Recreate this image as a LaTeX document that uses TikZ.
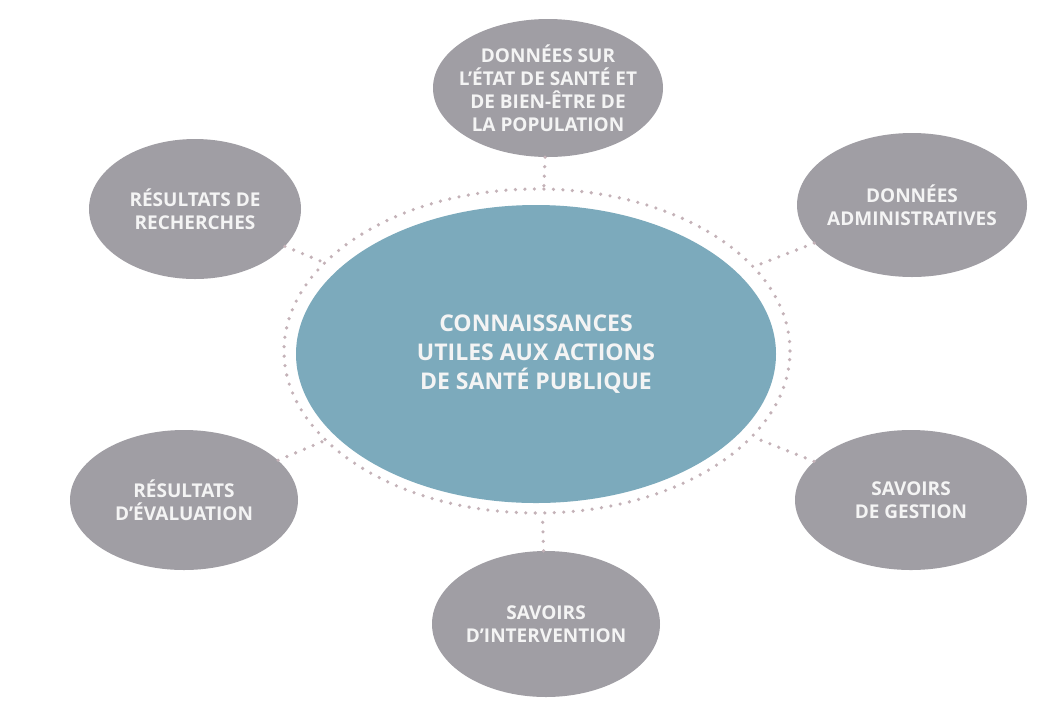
\documentclass[tikz,border=0pt]{standalone}
\usepackage{fontspec}
\setmainfont{Open Sans}
\usetikzlibrary{shapes.geometric}
\definecolor{satgray}{RGB}{160,158,164}
\definecolor{teal}{RGB}{124,170,188}
\definecolor{dotc}{RGB}{196,178,184}
\definecolor{txt}{RGB}{244,244,244}
\tikzset{
  sat/.style={ellipse, fill=satgray, draw=none, inner sep=-40pt, text=txt, align=center,
    font=\fontsize{19}{23}\selectfont\bfseries},
  dotline/.style={draw=dotc, line width=3.6pt, line cap=round, dash pattern=on 0pt off 9.5pt},
}
\begin{document}
\begin{tikzpicture}[x=1pt,y=-1pt]
\useasboundingbox[fill=white] (0,0) rectangle (1060,724);
% dotted ring and center
\node[ellipse, minimum width=508pt, minimum height=326pt, inner sep=0pt] (ring) at (537,351) {};
\draw[dotline] (537,351) ellipse [x radius=253pt, y radius=162pt];
\node[ellipse, fill=teal, minimum width=480pt, minimum height=298pt, inner sep=-40pt, text=txt, align=center,
  font=\fontsize{23}{29}\selectfont\bfseries] (center) at (536,354)
  {CONNAISSANCES\\UTILES AUX ACTIONS\\DE SANTÉ PUBLIQUE};
% satellites
\node[sat, minimum width=230pt, minimum height=138pt] (top) at (548,88)
  {DONNÉES SUR\\L’ÉTAT DE SANTÉ ET\\DE BIEN-ÊTRE DE\\LA POPULATION};
\node[sat, minimum width=212pt, minimum height=140pt] (tl) at (195,209)
  {RÉSULTATS DE\\RECHERCHES};
\node[sat, minimum width=230pt, minimum height=144pt] (tr) at (912,205)
  {DONNÉES\\ADMINISTRATIVES};
\node[sat, minimum width=228pt, minimum height=140pt] (bl) at (184,500)
  {RÉSULTATS\\D’ÉVALUATION};
\node[sat, minimum width=232pt, minimum height=140pt] (br) at (911,500)
  {SAVOIRS\\DE GESTION};
\node[sat, minimum width=228pt, minimum height=146pt] (bot) at (546,624)
  {SAVOIRS\\D’INTERVENTION};
% connectors
\foreach \s in {top,tl,tr,bl,br,bot}
  \draw[dotline] (\s) -- (ring);
\end{tikzpicture}
\end{document}
